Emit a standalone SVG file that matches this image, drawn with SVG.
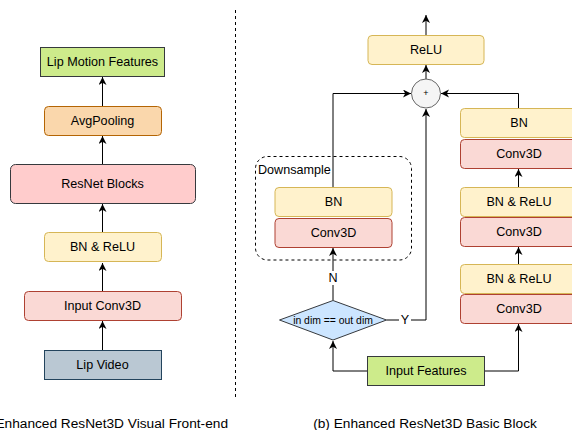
<svg xmlns="http://www.w3.org/2000/svg" width="572" height="430" viewBox="0 0 572 430">
<defs>
<marker id="arr" markerUnits="userSpaceOnUse" markerWidth="10" markerHeight="10" refX="8" refY="4" orient="auto">
<path d="M0,0 L8,4 L0,8 L2.2,4 Z" fill="#000"/>
</marker>
<style>
text{font-family:"Liberation Sans",Arial,Helvetica,sans-serif;font-size:12.6px;fill:#000;text-anchor:middle;dominant-baseline:central}
.cap{font-size:13.7px}
.e{fill:none;stroke:#000;stroke-width:1}
.a{marker-end:url(#arr)}
.green{fill:#cdeb8b;stroke:#36393d}
.orange{fill:#fad7ac;stroke:#b46504}
.pink{fill:#ffcccc;stroke:#36393d}
.yellow{fill:#fff2cc;stroke:#d6b656}
.red{fill:#fad9d5;stroke:#ae4132}
.blue{fill:#bac8d3;stroke:#23445d}
.dia{fill:#cce5ff;stroke:#36393d}
</style>
</defs>
<rect width="572" height="430" fill="#fff"/>
<line x1="235.5" y1="10" x2="235.5" y2="398" stroke="#000" stroke-dasharray="3,3"/>

<g id="connectors">
<path class="e a" d="M102.5,350 V321"/>
<path class="e a" d="M102.5,291 V263"/>
<path class="e a" d="M102.5,232 V204"/>
<path class="e a" d="M102.5,164 V136"/>
<path class="e a" d="M102.5,106 V77"/>
<path class="e a" d="M426,35 V15"/>
<path class="e a" d="M426,79.5 V65"/>
<path class="e a" d="M333,187 V93.5 H411"/>
<path class="e a" d="M518.5,108 V93.5 H441"/>
<path class="e a" d="M386.5,320 H426 V109"/>
<path class="e a" d="M518.5,187 V169"/>
<path class="e a" d="M518.5,264 V247"/>
<path class="e a" d="M367,371 H333 V341"/>
<path class="e a" d="M484,371 H518.5 V324"/>
<path class="e a" d="M333,300 V248"/>
</g>

<g id="lip-motion-features"><rect class="green" x="40.5" y="47.5" width="124" height="29"/><text x="102.5" y="62">Lip Motion Features</text></g>
<g id="avgpooling"><rect class="orange" x="44.5" y="106.5" width="117" height="29" rx="4"/><text x="102.5" y="121">AvgPooling</text></g>
<g id="resnet-blocks"><rect class="pink" x="10.5" y="164.5" width="185" height="39" rx="5"/><text x="102.5" y="184">ResNet Blocks</text></g>
<g id="bn-relu-left"><rect class="yellow" x="44.5" y="232.5" width="117" height="29" rx="4"/><text x="102.5" y="247">BN &amp; ReLU</text></g>
<g id="input-conv3d"><rect class="red" x="24.5" y="291.5" width="157" height="29" rx="4"/><text x="102.5" y="306">Input Conv3D</text></g>
<g id="lip-video"><rect class="blue" x="44.5" y="350.5" width="117" height="29"/><text x="102.5" y="365">Lip Video</text></g>
<text class="cap" x="228" y="423" style="text-anchor:end">(a) Enhanced ResNet3D Visual Front-end</text>

<g id="relu"><rect class="yellow" x="368" y="35.5" width="116" height="29" rx="4"/><text x="426" y="50">ReLU</text></g>
<g id="add"><circle cx="426" cy="93.5" r="14.5" fill="#f5f5f5" stroke="#666"/><text x="426" y="93" style="font-size:9px">+</text></g>

<g id="downsample"><rect x="255.5" y="156.5" width="156" height="103.5" rx="12" fill="none" stroke="#000" stroke-dasharray="3,3"/><text x="258" y="170" style="text-anchor:start">Downsample</text></g>
<g id="ds-bn"><rect class="yellow" x="275" y="187.5" width="117" height="29" rx="4"/><text x="333.5" y="202">BN</text></g>
<g id="ds-conv3d"><rect class="red" x="275" y="218.5" width="117" height="29" rx="4"/><text x="333.5" y="233">Conv3D</text></g>

<g id="n-label"><rect x="327" y="271" width="12" height="14" fill="#fff"/><text x="333" y="278">N</text></g>
<g id="decision"><polygon class="dia" points="279.5,320 333,300.5 386.5,320 333,340"/><text x="333" y="320" style="font-size:10.4px">in dim == out dim</text></g>
<g id="y-label"><rect x="399" y="313" width="12" height="14" fill="#fff"/><text x="405" y="320">Y</text></g>

<g id="input-features"><rect class="green" x="367.5" y="356.5" width="117" height="29"/><text x="426" y="371">Input Features</text></g>

<g id="rb-bn2"><rect class="yellow" x="460.5" y="108.5" width="117" height="29" rx="4"/><text x="519" y="123">BN</text></g>
<g id="rb-conv2"><rect class="red" x="460.5" y="139.5" width="117" height="29" rx="4"/><text x="519" y="154">Conv3D</text></g>
<g id="rb-bnrelu2"><rect class="yellow" x="460.5" y="187.5" width="117" height="29" rx="4"/><text x="519" y="202">BN &amp; ReLU</text></g>
<g id="rb-conv1b"><rect class="red" x="460.5" y="217.5" width="117" height="29" rx="4"/><text x="519" y="232">Conv3D</text></g>
<g id="rb-bnrelu1"><rect class="yellow" x="460.5" y="264.5" width="117" height="29" rx="4"/><text x="519" y="279">BN &amp; ReLU</text></g>
<g id="rb-conv1"><rect class="red" x="460.5" y="294.5" width="117" height="29" rx="4"/><text x="519" y="309">Conv3D</text></g>

<text class="cap" x="425" y="423">(b) Enhanced ResNet3D Basic Block</text>
</svg>
